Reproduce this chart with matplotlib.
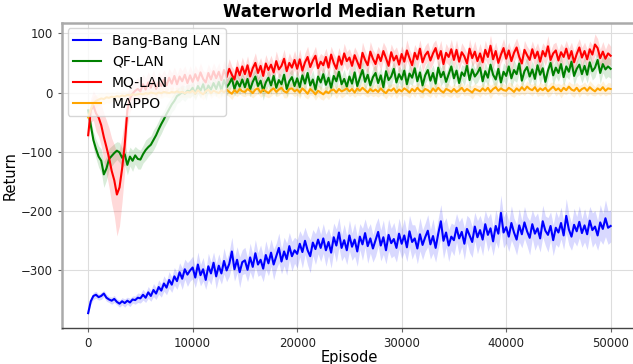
import numpy as np
import matplotlib
matplotlib.use("Agg")
import matplotlib.pyplot as plt

# episodes (one point every 250 episodes)
episodes = np.arange(0, 50001, 250)

# Bang-Bang LAN
bb_mean = [
    -372, -352, -343, -341, -345, -343, -339, -346, -349, -351,
    -348, -353, -356, -352, -355, -351, -354, -349, -350, -346,
    -347, -341, -346, -337, -343, -333, -339, -328, -334, -322,
    -329, -316, -324, -310, -318, -303, -314, -298, -307, -300,
    -295, -312, -290, -308, -298, -316, -293, -305, -287, -310,
    -292, -305, -284, -300, -289, -268, -298, -282, -303, -286,
    -283, -299, -278, -294, -271, -290, -282, -297, -274, -288,
    -270, -290, -276, -262, -285, -268, -281, -259, -276, -266,
    -272, -255, -269, -250, -266, -276, -253, -264, -248, -262,
    -246, -266, -252, -270, -244, -258, -236, -262, -249, -266,
    -241, -260, -248, -268, -243, -256, -237, -259, -246, -263,
    -249, -235, -258, -244, -266, -240, -254, -247, -262, -238,
    -255, -241, -261, -234, -252, -246, -263, -239, -257, -244,
    -233, -256, -242, -262, -238, -217, -250, -236, -258, -243,
    -249, -228, -246, -235, -255, -230, -241, -252, -226, -244,
    -232, -248, -222, -240, -229, -251, -225, -238, -203, -236,
    -227, -243, -220, -236, -248, -224, -239, -219, -234, -245,
    -222, -238, -229, -246, -217, -233, -240, -225, -249, -228,
    -236, -220, -241, -208, -231, -243, -223, -234, -218, -237,
    -224, -239, -216, -232, -226, -241, -219, -230, -212, -228,
    -225,
]
bb_std = [
    3, 5, 6, 6, 5, 6, 5, 6, 5, 6,
    6, 5, 6, 6, 7, 6, 7, 6, 7, 8,
    8, 9, 8, 10, 9, 11, 10, 12, 11, 13,
    12, 14, 13, 15, 14, 16, 18, 17, 20, 18,
    19, 17, 21, 18, 20, 16, 22, 19, 18, 21,
    20, 18, 22, 19, 21, 24, 20, 22, 26, 21,
    22, 20, 24, 21, 23, 20, 25, 22, 24, 21,
    23, 26, 22, 25, 21, 24, 27, 23, 25, 22,
    24, 22, 27, 23, 25, 28, 22, 26, 24, 23,
    25, 27, 23, 26, 24, 28, 25, 22, 27, 24,
    26, 23, 28, 25, 22, 27, 24, 29, 25, 23,
    27, 24, 26, 29, 23, 27, 25, 28, 24, 26,
    25, 28, 24, 27, 29, 23, 26, 28, 25, 24,
    27, 25, 29, 24, 26, 28, 30, 25, 27, 23,
    26, 24, 28, 25, 27, 23, 29, 26, 24, 28,
    25, 27, 23, 28, 26, 24, 27, 25, 30, 26,
    27, 25, 29, 24, 26, 28, 23, 27, 25, 29,
    24, 28, 26, 23, 27, 25, 29, 24, 26, 28,
    25, 27, 24, 29, 26, 23, 28, 25, 27, 24,
    28, 26, 24, 29, 27, 25, 30, 26, 31, 28,
    27,
]

# QF-LAN
qf_mean = [
    -30, -55, -80, -95, -108, -115, -138, -128, -112, -107,
    -102, -98, -101, -110, -104, -122, -108, -115, -106, -112,
    -113, -104, -97, -92, -88, -80, -72, -62, -53, -45,
    -36, -28, -20, -14, -6, -3, 1, -2, 3, 2,
    8, -2, 11, 3, 14, 0, 12, 5, 16, 6,
    18, 4, 21, 9, 15, 24, 6, 19, 10, 22,
    9, 23, 5, 18, 27, 11, 20, 3, 17, 25,
    12, 28, 8, 21, 14, 30, 6, 19, 26, 11,
    24, 9, 29, 15, 33, 12, 22, 5, 27, 17,
    31, 13, 25, 8, 28, 19, 35, 14, 23, 10,
    27, 15, 34, 11, 25, 38, 18, 30, 12, 26,
    33, 16, 29, 9, 36, 21, 27, 40, 17, 31,
    22, 37, 14, 32, 25, 41, 19, 34, 12, 29,
    38, 20, 33, 15, 42, 26, 35, 18, 31, 44,
    24, 37, 16, 34, 28, 45, 21, 39, 27, 33,
    42, 19, 36, 25, 47, 30, 22, 40, 17, 35,
    28, 44, 24, 38, 31, 49, 20, 36, 43, 27,
    39, 23, 46, 30, 41, 18, 37, 50, 29, 42,
    33, 48, 26, 44, 35, 52, 28, 40, 47, 31,
    45, 30, 51, 36, 42, 55, 33, 48, 39, 44,
    40,
]
qf_std = [
    5, 10, 14, 16, 18, 20, 22, 20, 18, 17,
    16, 15, 17, 16, 18, 17, 16, 18, 15, 17,
    16, 15, 17, 16, 15, 17, 16, 15, 16, 14,
    15, 14, 13, 14, 12, 13, 12, 13, 12, 11,
    12, 11, 13, 12, 11, 13, 12, 11, 12, 13,
    12, 13, 11, 14, 12, 13, 12, 14, 13, 12,
    13, 14, 12, 15, 13, 14, 12, 16, 13, 14,
    15, 13, 14, 12, 16, 14, 13, 15, 14, 13,
    14, 16, 13, 15, 12, 14, 16, 13, 15, 14,
    13, 15, 14, 16, 13, 15, 12, 14, 16, 13,
    15, 14, 16, 13, 15, 17, 14, 15, 13, 16,
    14, 16, 13, 15, 17, 14, 16, 13, 15, 14,
    16, 14, 15, 17, 13, 16, 14, 15, 17, 14,
    15, 17, 14, 16, 13, 15, 17, 14, 16, 15,
    14, 16, 15, 13, 17, 14, 16, 15, 13, 16,
    15, 13, 16, 14, 17, 15, 14, 16, 13, 15,
    16, 14, 15, 17, 14, 16, 13, 15, 17, 14,
    15, 17, 14, 16, 15, 13, 16, 14, 17, 15,
    14, 16, 15, 17, 13, 15, 16, 14, 17, 15,
    16, 14, 17, 15, 16, 14, 18, 15, 16, 17,
    16,
]

# MQ-LAN
mq_mean = [
    -72, -30, -22, -35, -42, -55, -75, -92, -110, -132,
    -148, -172, -160, -128, -88, -30, -10, -2, 3, 6,
    2, 14, 5, 17, 8, 20, 6, 18, 11, 22,
    12, 25, 15, 28, 14, 27, 19, 30, 16, 29,
    18, 31, 20, 34, 23, 17, 33, 22, 36, 24,
    35, 21, 38, 26, 40, 30, 22, 42, 29, 44,
    31, 46, 27, 41, 50, 33, 45, 28, 49, 38,
    47, 34, 53, 39, 45, 57, 36, 50, 42, 55,
    40, 56, 37, 51, 60, 43, 54, 62, 41, 52,
    46, 60, 42, 64, 50, 40, 61, 47, 66, 53,
    59, 45, 63, 52, 41, 67, 55, 46, 69, 57,
    48, 64, 53, 70, 58, 45, 68, 54, 62, 47,
    65, 52, 71, 58, 46, 67, 56, 74, 51, 63,
    69, 54, 66, 75, 57, 70, 48, 67, 60, 73,
    55, 72, 52, 68, 61, 49, 74, 58, 69, 53,
    66, 51, 72, 60, 79, 56, 70, 50, 64, 75,
    57, 71, 53, 67, 76, 60, 49, 72, 63, 55,
    73, 58, 69, 52, 70, 61, 78, 55, 66, 71,
    54, 68, 60, 74, 57, 70, 51, 65, 76, 59,
    70, 56, 73, 64, 81, 75, 58, 69, 57, 66,
    62,
]
mq_std = [
    8, 20, 25, 30, 32, 35, 40, 45, 50, 55,
    60, 70, 65, 55, 45, 28, 22, 20, 18, 19,
    18, 17, 19, 18, 17, 18, 16, 17, 18, 16,
    17, 16, 18, 15, 17, 16, 18, 15, 17, 16,
    16, 15, 17, 16, 14, 17, 15, 16, 14, 16,
    15, 14, 16, 15, 17, 14, 16, 15, 13, 16,
    14, 16, 15, 13, 17, 15, 14, 16, 15, 13,
    16, 14, 17, 15, 13, 16, 15, 17, 14, 16,
    15, 17, 14, 16, 18, 15, 13, 16, 17, 14,
    16, 15, 17, 14, 16, 18, 15, 13, 17, 16,
    15, 17, 14, 16, 15, 18, 16, 14, 17, 15,
    17, 14, 16, 15, 18, 16, 14, 17, 15, 16,
    14, 16, 18, 15, 17, 14, 16, 15, 17, 16,
    16, 15, 17, 14, 16, 18, 15, 16, 14, 17,
    15, 17, 14, 16, 15, 17, 16, 14, 18, 15,
    17, 15, 16, 14, 18, 16, 15, 17, 14, 16,
    16, 14, 17, 15, 16, 18, 14, 16, 15, 17,
    14, 16, 15, 17, 14, 16, 18, 15, 16, 14,
    17, 15, 16, 14, 18, 15, 17, 16, 15, 17,
    15, 17, 14, 16, 18, 16, 15, 17, 16, 18,
    16,
]

# MAPPO
mappo_mean = [
    -42, -28, -18, -14, -12, -10, -11, -8, -9, -7,
    -8, -6, -7, -5, -6, -4, -5, -3, -4, -3,
    -2, -3, -1, -2, 0, -1, -2, 0, -1, 1,
    0, -1, 1, 0, 2, 0, 1, -1, 1, 0,
    3, -2, 4, 0, -3, 2, 5, -1, 3, 1,
    -1, 4, 0, 5, 1, -2, 4, 0, 6, 2,
    1, 6, 3, -1, 5, 7, 0, 5, 2, -1,
    4, 7, 1, 5, 8, 2, 0, 6, 7, 2,
    5, 0, 7, 3, -2, 6, 2, -3, 3, 0,
    -3, 2, -1, 4, 5, 0, 6, 2, 4, 7,
    2, 6, 0, 7, 3, 8, 4, 0, 6, 2,
    5, 1, 7, 2, -1, 5, 3, 7, 0, 5,
    2, 7, 4, 0, 6, 2, 8, 3, 1, 6,
    4, 0, 7, 2, 8, 3, 0, 6, 4, 1,
    6, 1, 4, 8, 2, 6, 3, 0, 6, 4,
    2, 7, 3, 8, 1, 6, 9, 3, 7, 4,
    3, 8, 5, 1, 7, 3, 9, 4, 10, 6,
    4, 9, 2, 7, 4, 8, 2, 6, 10, 4,
    7, 2, 8, 4, 10, 5, 3, 8, 2, 6,
    8, 3, 9, 5, 2, 7, 4, 9, 3, 7,
    6,
]
mappo_std = [
    5, 12, 12, 11, 10, 10, 9, 9, 9, 8,
    8, 9, 8, 9, 8, 7, 8, 9, 8, 7,
    8, 7, 8, 9, 7, 8, 7, 8, 9, 8,
    7, 8, 9, 8, 7, 8, 9, 7, 8, 9,
    8, 9, 7, 8, 9, 8, 7, 9, 8, 7,
    9, 8, 7, 9, 8, 10, 8, 7, 9, 8,
    8, 10, 9, 8, 10, 9, 8, 10, 9, 8,
    10, 9, 8, 10, 9, 11, 9, 8, 10, 9,
    9, 10, 8, 11, 9, 10, 8, 10, 9, 11,
    10, 9, 11, 9, 8, 10, 9, 11, 10, 9,
    9, 10, 8, 11, 9, 10, 9, 8, 10, 9,
    10, 9, 11, 8, 10, 9, 11, 9, 10, 8,
    9, 11, 10, 9, 8, 10, 9, 11, 10, 9,
    10, 8, 9, 11, 10, 9, 8, 10, 11, 9,
    9, 10, 11, 9, 8, 10, 9, 11, 10, 8,
    10, 9, 8, 10, 11, 9, 10, 8, 9, 11,
    9, 10, 11, 9, 10, 8, 11, 9, 10, 9,
    10, 8, 9, 11, 10, 9, 10, 11, 8, 10,
    9, 11, 10, 8, 9, 10, 11, 9, 10, 8,
    10, 9, 11, 10, 8, 9, 10, 11, 9, 10,
    10,
]

series = [
    ("Bang-Bang LAN", bb_mean, bb_std, "blue"),
    ("QF-LAN", qf_mean, qf_std, "green"),
    ("MQ-LAN", mq_mean, mq_std, "red"),
    ("MAPPO", mappo_mean, mappo_std, "orange"),
]

fig = plt.figure(figsize=(6.33, 3.64), dpi=100)
ax = fig.add_axes([0.098, 0.099, 0.908, 0.839])

for name, m, s, c in series:
    m = np.array(m, dtype=float)
    s = np.array(s, dtype=float)
    ax.plot(episodes, m, color=c, linewidth=1.5, label=name)
    ax.fill_between(episodes, m - s, m + s, color=c, alpha=0.15, linewidth=0)

ax.set_xlim(-2500, 52500)
ax.set_ylim(-397, 118)
ax.set_xticks([0, 10000, 20000, 30000, 40000, 50000])
ax.set_yticks([-300, -200, -100, 0, 100])

ax.grid(True, color="#dddddd", linewidth=0.8)
ax.set_axisbelow(True)

ax.spines["left"].set_color("#aaaaaa")
ax.spines["left"].set_linewidth(1.8)
ax.spines["top"].set_color("#aaaaaa")
ax.spines["top"].set_linewidth(1.8)
ax.spines["bottom"].set_color("#444444")
ax.spines["bottom"].set_linewidth(1.0)
ax.spines["right"].set_visible(False)
ax.tick_params(labelsize=8.5, colors="#222222", length=3)
ax.tick_params(axis="both", color="#666666")

ax.set_title("Waterworld Median Return", fontsize=12, fontweight="bold", pad=4)
ax.set_xlabel("Episode", fontsize=10.5, labelpad=0)
ax.set_ylabel("Return", fontsize=10.5, labelpad=2)

ax.legend(loc="upper left", fontsize=10, framealpha=0.8,
          borderaxespad=0.4)

fig.savefig("out.png", dpi=100)
